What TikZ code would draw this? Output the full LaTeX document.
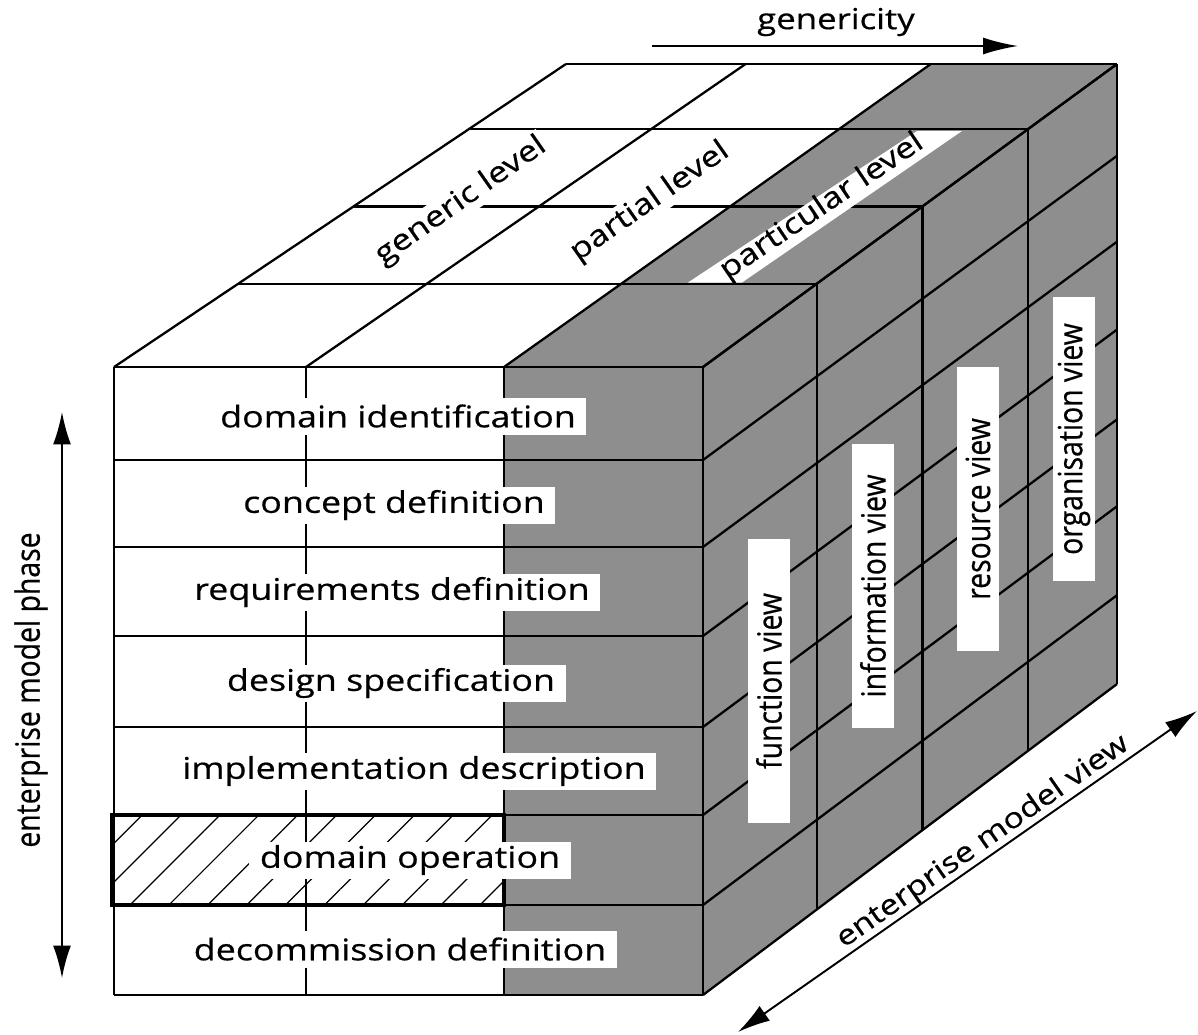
\documentclass[tikz,border=0pt]{standalone}
\usepackage{fontspec}
\setmainfont{Open Sans}
\newfontfamily\widesans[FakeStretch=1.2,FakeBold=0.5]{Open Sans}
\newfontfamily\narrowsans[FakeStretch=0.85,FakeBold=0.5]{Open Sans}
\usetikzlibrary{calc,arrows.meta,patterns.meta}
\definecolor{cubegray}{RGB}{142,142,142}
\tikzset{
    cubeline/.style={line width=1.3pt, line join=round},
    rowlabel/.style={fill=white, inner xsep=6pt, inner ysep=0pt, minimum height=0.74cm,
        font=\widesans\fontsize{17}{20}\selectfont},
    viewbox/.style={fill=white, rotate=90, inner sep=0pt, minimum width=5.7cm,
        minimum height=0.84cm, font=\narrowsans\fontsize{19}{22}\selectfont},
    levellabel/.style={inner sep=1pt, rotate=35, font=\widesans\fontsize{16.5}{19}\selectfont},
    axisarrow/.style={line width=1.1pt, {Latex[length=0.65cm,width=0.36cm]}-{Latex[length=0.65cm,width=0.36cm]}},
}
\begin{document}
\begin{tikzpicture}[x=0.02cm, y=-0.02cm]
    \useasboundingbox (0,0) rectangle (1198,1035);
    \foreach \cl/\fx/\bx in {0/114/566, 1/306/745.6, 2/504/930.8, 3/703/1117}
    {
        \foreach \rw/\fy/\by in {0/367/64, 1/460/155.8, 2/547/241.7, 3/636/329.6,
                                 4/727/419.4, 5/815/506.3, 6/905/595.2, 7/995/684}
        {
            \coordinate (f\cl\rw) at (\fx,\fy);
            \coordinate (b\cl\rw) at (\bx,\by);
        }
    }
    \fill[cubegray] (f20) -- (f30) -- (b30) -- (b20) -- cycle;
    \fill[cubegray] (f20) rectangle (f37);
    \fill[cubegray] (f30) -- (b30) -- (b37) -- (f37) -- cycle;
    \fill[pattern={Lines[angle=45,distance=0.55cm,line width=0.7pt]}] (f05) rectangle (f26);
    \foreach \rw in {0,...,7}
    {
        \draw[cubeline] (f0\rw) -- (f3\rw);
        \draw[cubeline] (f3\rw) -- (b3\rw);
    }
    \foreach \cl in {0,...,3}
    {
        \draw[cubeline] (f\cl0) -- (f\cl7);
        \draw[cubeline] (f\cl0) -- (b\cl0);
    }
    \foreach \w in {0.275,0.53,0.785,1}
    {
        \draw[cubeline] ($(f00)!\w!(b00)$) -- ($(f30)!\w!(b30)$);
        \draw[cubeline] ($(f30)!\w!(b30)$) -- ($(f37)!\w!(b37)$);
    }
    \draw[line width=2.6pt] (112,815) rectangle (f26);
    \fill[white] (688,282.5) -- (742,282.5) -- (962,131) -- (917,131) -- cycle;

    \node (domid) [rowlabel] at (398,416) {domain identification};
    \node (concdef) [rowlabel] at (394,505) {concept definition};
    \node (reqdef) [rowlabel] at (392,592) {requirements definition};
    \node (designspec) [rowlabel] at (391,683) {design specification};
    \node (impldesc) [rowlabel] at (414,771) {implementation description};
    \node (domop) [rowlabel] at (410,860) {domain operation};
    \node (decomdef) [rowlabel] at (400,949) {decommission definition};

    \node (funcview) [viewbox] at (769,681) {function view};
    \node (infoview) [viewbox] at (873,586) {information view};
    \node (resview) [viewbox] at (978,509) {resource view};
    \node (orgview) [viewbox] at (1074,439) {organisation view};

    \node (genlevel) [levellabel, fill=white] at (461,201) {generic level};
    \node (partlevel) [levellabel, fill=white] at (650,202) {partial level};
    \node (particlevel) [levellabel, rotate=-1] at (822,207) {particular level};

    \coordinate (genleft) at (652,46);
    \coordinate (genright) at (1018,46);
    \draw[line width=1.1pt, -{Latex[length=0.7cm,width=0.34cm]}] (genleft) -- (genright);
    \node (genericity) [font=\widesans\fontsize{16.5}{19}\selectfont] at (836,22) {genericity};

    \coordinate (phasetop) at (62,412);
    \coordinate (phasebot) at (62,978);
    \draw[axisarrow] (phasetop) -- (phasebot);
    \node (phasetext) [rotate=90, font=\narrowsans\fontsize{19}{22}\selectfont] at (31,690) {enterprise model phase};

    \coordinate (viewfront) at (738,1032);
    \coordinate (viewback) at (1197,711);
    \draw[axisarrow] (viewfront) -- (viewback);
    \node (viewtext) [rotate=35, font=\widesans\fontsize{16}{19}\selectfont] at (983,842) {enterprise model view};
\end{tikzpicture}
\end{document}
